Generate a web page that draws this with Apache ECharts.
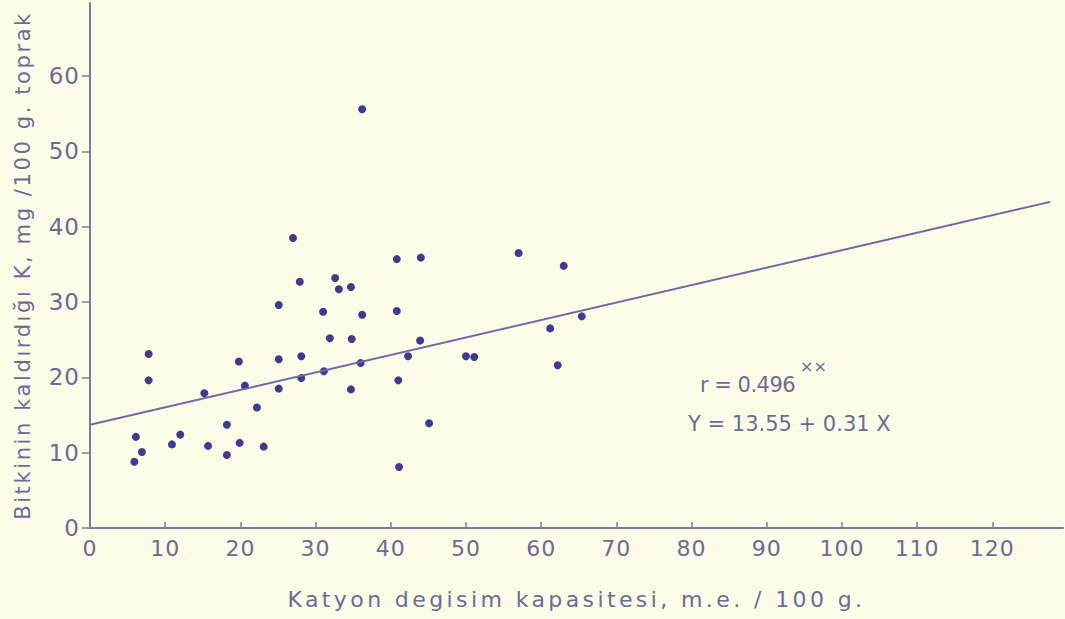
<!DOCTYPE html>
<html><head><meta charset="utf-8">
<script src="https://cdn.jsdelivr.net/npm/echarts@6/dist/echarts.min.js"></script>
<style>html,body{margin:0;padding:0;background:#fcfce8;}#c{width:1065px;height:619px;}</style>
</head><body><div id="c"></div>
<script>
// Cation exchange capacity (m.e./100 g)
const cecValues = [5.9,6.1,6.9,7.8,7.8,10.9,12.0,15.2,15.7,18.2,18.2,19.8,19.9,20.6,22.2,23.1,25.1,25.1,25.1,27.0,27.9,28.1,28.1,31.0,31.1,31.9,32.6,33.1,34.7,34.8,34.7,36.2,36.0,36.2,40.8,40.8,41.0,41.1,42.3,44.0,43.9,45.1,50.0,51.1,57.0,61.2,62.2,63.0,65.4];
// K removed by plants (mg/100 g soil)
const kValues = [8.8,12.1,10.1,23.1,19.6,11.1,12.4,17.9,10.9,9.7,13.7,22.1,11.3,18.9,16.0,10.8,29.6,22.4,18.5,38.5,32.7,22.8,19.9,28.7,20.8,25.2,33.2,31.7,32.0,25.1,18.4,28.3,21.9,55.6,35.7,28.8,19.6,8.1,22.8,35.9,24.9,13.9,22.8,22.7,36.5,26.5,21.6,34.8,28.1];
// Regression line as drawn
const lineX = [0, 127.7];
const lineY = [13.7, 43.3];
const xTicks = [0,10,20,30,40,50,60,70,80,90,100,110,120];
const yTicks = [0,10,20,30,40,50,60];
const xName = 'Katyon degisim kapasitesi, m.e. / 100 g.';
const yName = 'Bitkinin kaldırdığı K, mg /100 g. toprak';
const rText = 'r = 0.496';
const rSup = '××';
const eqText = 'Y = 13.55 + 0.31 X';

const ink = '#6a6c96';
const axisCol = '#7c7d98';
const ff = 'DejaVu Sans';
const chart = echarts.init(document.getElementById('c'), null, {renderer:'svg'});
chart.setOption({
  animation:false,
  backgroundColor:'#fcfce8',
  grid:{left:90,right:2,top:3,bottom:91,outerBoundsMode:'none',containLabel:false},
  xAxis:{type:'value',min:0,max:129.4,interval:10,
    name:xName,nameLocation:'middle',nameGap:60,
    nameTextStyle:{color:ink,fontSize:22,fontFamily:ff},
    axisLine:{lineStyle:{color:axisCol,width:2}},
    axisTick:{inside:true,length:6,customValues:xTicks,lineStyle:{color:axisCol,width:1.5}},
    axisLabel:{customValues:xTicks,color:ink,fontSize:22,fontFamily:ff,margin:9},
    splitLine:{show:false}},
  yAxis:{type:'value',min:0,max:69.7,interval:10,
    name:yName,nameLocation:'middle',nameGap:57,
    nameTextStyle:{color:ink,fontSize:21,fontFamily:ff},
    axisLine:{show:true,lineStyle:{color:axisCol,width:2}},
    axisTick:{show:true,length:8,customValues:yTicks,lineStyle:{color:axisCol,width:1.5}},
    axisLabel:{customValues:yTicks,color:ink,fontSize:23,fontFamily:ff,margin:10},
    splitLine:{show:false}},
  series:[
    {type:'scatter',data:cecValues.map((x,i)=>[x,kValues[i]]),symbolSize:8,
      itemStyle:{color:'#3c3c8c',opacity:1}},
    {type:'line',data:lineX.map((x,i)=>[x,lineY[i]]),symbol:'none',
      lineStyle:{color:'#6a6ca4',width:2}}
  ],
  graphic:[
    {type:'text',left:700,top:374,style:{text:rText,fill:ink,font:'21px "DejaVu Sans"'}},
    {type:'text',left:800,top:358,style:{text:rSup,fill:ink,font:'16px "DejaVu Sans"'}},
    {type:'text',left:688,top:413,style:{text:eqText,fill:ink,font:'21px "DejaVu Sans"'}}
  ]
});
// letter spacing to mimic stencil lettering
document.querySelectorAll('#c text').forEach(t=>{
  const s=t.textContent;
  if(s===xName) t.style.letterSpacing='3.4px';
  else if(s===yName) t.style.letterSpacing='2.6px';
  else if(/^\d+$/.test(s)) t.style.letterSpacing='1px';
  else if(s===rText) t.style.letterSpacing='-0.5px';
});
</script></body></html>
